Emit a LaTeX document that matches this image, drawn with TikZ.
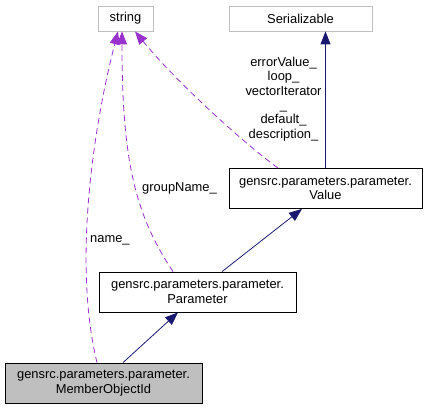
\documentclass[tikz,border=0pt]{standalone}
\usepackage{fontspec}
\setmainfont{Liberation Sans}
\usetikzlibrary{arrows.meta}

\definecolor{edgeblue}{HTML}{191970}
\definecolor{edgepurple}{HTML}{9A32CD}
\definecolor{boxgrey}{HTML}{BFBFBF}

\begin{document}
\begin{tikzpicture}[x=1pt,y=-1pt,
  every node/.style={font=\fontsize{12.9}{14.4}\selectfont},
  cls/.style={draw=black,line width=0.8pt,align=center,inner sep=0pt,minimum height=40pt},
  ext/.style={draw=boxgrey,line width=0.8pt,inner sep=0pt,minimum height=25pt},
  inh/.style={draw=edgeblue,line width=0.8pt,-{Triangle[length=13pt,width=10pt]}},
  use/.style={draw=edgepurple,line width=0.8pt,dash pattern=on 6pt off 4pt,-{Triangle[length=13pt,width=10pt]}},
  lbl/.style={inner sep=0pt,align=center}]
\useasboundingbox (0,0) rectangle (431,409);

% boxes
\node[ext,minimum width=55pt] (str) at (125.5,18.5) {string};
\node[ext,minimum width=143pt] (ser) at (300.5,18.5) {Serializable};
\node[cls,minimum width=193pt] (val) at (325.5,188.5) {gensrc.parameters.parameter.\\Value};
\node[cls,minimum width=197pt] (par) at (197.5,292) {gensrc.parameters.parameter.\\Parameter};
\node[cls,minimum width=197pt,fill=boxgrey] (mo) at (103.5,383) {gensrc.parameters.parameter.\\MemberObjectId};

% inheritance
\draw[inh] (val.north) -- (val.north |- ser.south);
\draw[inh] ([xshift=24.5pt]par.north) -- ([xshift=-23.5pt]val.south);
\draw[inh] ([xshift=19.5pt]mo.north) -- ([xshift=-19.5pt]par.south);

% usage
\draw[use] ([xshift=-6.5pt]mo.north) .. controls +(-25,-103) and +(-23,89) .. ([xshift=-7.5pt]str.south);
\draw[use] ([xshift=-24.5pt]par.north) .. controls +(-38,-57) and +(0,129) .. ([xshift=-3.5pt]str.south);
\draw[use] ([xshift=-47.5pt]val.north) .. controls +(-38,-28) and +(40,49) .. ([xshift=9.5pt]str.south);

% labels
\node[lbl,anchor=west] (lname) at (90,240) {name\_};
\node[lbl,anchor=west] (lgroup) at (142,188) {groupName\_};
\node[lbl] (lval) at (283.5,99) {errorValue\_\\loop\_\\vectorIterator\\\_\\default\_\\description\_};

\end{tikzpicture}
\end{document}
